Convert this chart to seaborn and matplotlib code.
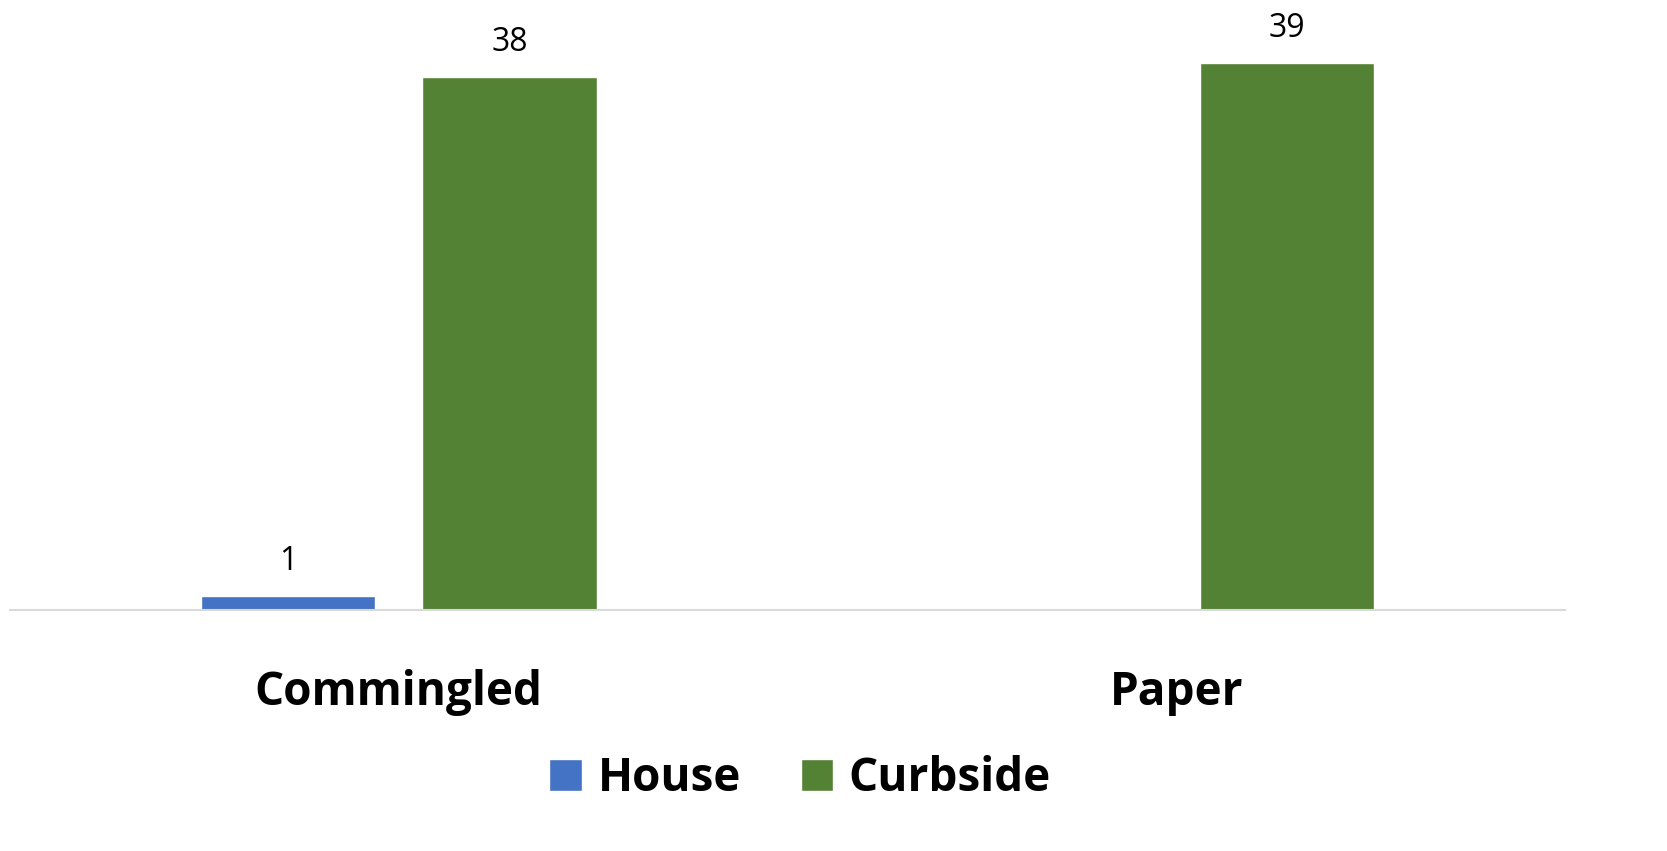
import numpy as np
import pandas as pd
import seaborn as sns
import matplotlib.pyplot as plt
from matplotlib.patches import Patch

## Data
categories = ["Commingled", "Paper"]
series = ["House", "Curbside"]
house_vals = [1, 0]
curbside_vals = [38, 39]

colors = {"House": "#4472C4", "Curbside": "#548235"}

df = pd.DataFrame({
    "category": categories * 2,
    "series": ["House"] * len(categories) + ["Curbside"] * len(categories),
    "value": house_vals + curbside_vals,
})

sns.set_style("white")
plt.rcParams["font.family"] = ["Open Sans", "DejaVu Sans"]
plt.rcParams["text.color"] = "black"
plt.rcParams["xtick.color"] = "black"

fig = plt.figure(figsize=(16.67, 8.51), dpi=100)
ax = fig.add_axes([0.006, 0.283, 0.933, 0.717])

sns.barplot(data=df, x="category", y="value", hue="series", hue_order=series,
            palette=colors, width=0.569, gap=0.213, ax=ax, legend=False,
            saturation=1)

## Data labels (skip empty bars)
for cont in ax.containers:
    labels = [f"{v:g}" if v > 0 else "" for v in cont.datavalues]
    ax.bar_label(cont, labels=labels, padding=13, fontsize=23, color="black")

ax.set_ylim(0, 43.5)
ax.set_xlim(-0.5, 1.5)
ax.set_xlabel("")
ax.set_ylabel("")
ax.set_yticks([])
ax.tick_params(axis="x", length=0, pad=42)
for lbl in ax.get_xticklabels():
    lbl.set_fontsize(33)
    lbl.set_fontweight("bold")
    lbl.set_color("black")
for s in ["top", "right", "left"]:
    ax.spines[s].set_visible(False)
ax.spines["bottom"].set_color("#D9D9D9")
ax.spines["bottom"].set_linewidth(1.5)

handles = [Patch(facecolor=colors[s], label=s) for s in series]
leg = fig.legend(handles=handles, loc="center", bbox_to_anchor=(0.48, 0.085),
                 ncol=2, frameon=False, handlelength=0.7, handleheight=0.7,
                 handletextpad=0.35, columnspacing=1.3,
                 prop={"size": 33, "weight": "bold"})
for t in leg.get_texts():
    t.set_color("black")

fig.savefig("out.png", dpi=100)
